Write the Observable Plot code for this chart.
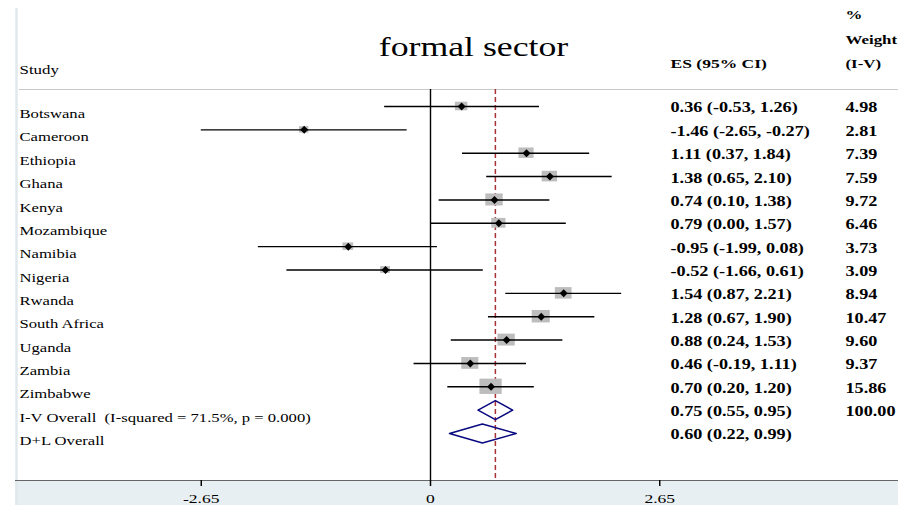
<!DOCTYPE html>
<html>
<head>
<meta charset="utf-8">
<script src="https://cdn.jsdelivr.net/npm/d3@7"></script>
<script src="https://cdn.jsdelivr.net/npm/@observablehq/plot@0.6"></script>
<style>
  html, body { margin: 0; padding: 0; background: #fff; }
  svg text { white-space: pre; }
</style>
</head>
<body>
<div id="chart"></div>
<script>
// ---------- data ----------
const studies = ["Botswana","Cameroon","Ethiopia","Ghana","Kenya","Mozambique","Namibia","Nigeria","Rwanda","South Africa","Uganda","Zambia","Zimbabwe"];
const es      = [0.36, -1.46, 1.11, 1.38, 0.74, 0.79, -0.95, -0.52, 1.54, 1.28, 0.88, 0.46, 0.70];
const lo      = [-0.53, -2.65, 0.37, 0.65, 0.10, 0.00, -1.99, -1.66, 0.87, 0.67, 0.24, -0.19, 0.20];
const hi      = [1.26, -0.27, 1.84, 2.10, 1.38, 1.57, 0.08, 0.61, 2.21, 1.90, 1.53, 1.11, 1.20];
const weights = [4.98, 2.81, 7.39, 7.59, 9.72, 6.46, 3.73, 3.09, 8.94, 10.47, 9.60, 9.37, 15.86];

const overallLabels  = ["I-V Overall  (I-squared = 71.5%, p = 0.000)", "D+L Overall"];
const overallES      = [0.75, 0.60];
const overallLo      = [0.55, 0.22];
const overallHi      = [0.95, 0.99];
const overallWeights = ["100.00", ""];

const tickValues = [-2.65, 0, 2.65];
const tickLabels = ["-2.65", "0", "2.65"];

const titleText     = "formal sector";
const studyHeader   = "Study";
const esHeader      = "ES (95% CI)";
const weightHeaders = ["%", "Weight", "(I-V)"];

// ---------- layout ----------
const W = 898, H = 505;
const zeroPx = 430, unitPx = 86.5, frameLeft = 15, axisPx = 480;
const row1Px = 106, rowStepPx = 23.357;
const px2x = p => (p - zeroPx) / unitPx;
const px2y = p => 1 + (p - row1Px) / rowStepPx;
const xDomain = [px2x(frameLeft), px2x(W)];
const yDomain = [px2y(0), px2y(axisPx)];
const textScale = 1.3;
const fmt = v => v.toFixed(2);

const studyRows = studies.map((s, i) => {
  const bh = 3.85 * Math.sqrt(weights[i]);
  const bw = 1.45 * bh;
  return {
    row: i + 1, label: s, es: es[i], lo: lo[i], hi: hi[i],
    bx1: es[i] - bw / 2 / unitPx, bx2: es[i] + bw / 2 / unitPx,
    by1: i + 1 - bh / 2 / rowStepPx, by2: i + 1 + bh / 2 / rowStepPx,
    esText: `${fmt(es[i])} (${fmt(lo[i])}, ${fmt(hi[i])})`,
    wText: fmt(weights[i])
  };
});
const overallRows = overallLabels.map((s, j) => ({
  row: studies.length + 1 + j, label: s, es: overallES[j], lo: overallLo[j], hi: overallHi[j],
  esText: `${fmt(overallES[j])} (${fmt(overallLo[j])}, ${fmt(overallHi[j])})`,
  wText: overallWeights[j]
}));
const allRows = [...studyRows, ...overallRows];

const diamondHalf = 9.5 / rowStepPx;
const diamondPts = overallRows.flatMap((d, j) => [
  {id: j, x: d.lo, y: d.row},
  {id: j, x: d.es, y: d.row - diamondHalf},
  {id: j, x: d.hi, y: d.row},
  {id: j, x: d.es, y: d.row + diamondHalf},
  {id: j, x: d.lo, y: d.row}
]);

const headerY = px2y(89);
const weightHeaderDy = [9.5, 34.5, 58.3];

const chart = Plot.plot({
  width: W, height: H,
  marginLeft: frameLeft, marginRight: 0, marginTop: 0, marginBottom: H - axisPx,
  style: {fontFamily: "Liberation Serif", fontSize: "13.5px", background: "white", color: "black"},
  x: {domain: xDomain, label: null},
  y: {domain: yDomain, range: [0, axisPx], axis: null},
  marks: [
    // bottom band & frame stripe
    Plot.rect([0], {x1: () => xDomain[0], x2: () => xDomain[1], y1: () => yDomain[1], y2: () => px2y(H), fill: "#e8eff2"}),
    Plot.ruleX([0], {x: () => px2x(16), y1: () => px2y(8), y2: () => px2y(H), stroke: "#e1e9ed", strokeWidth: 2.5}),
    Plot.ruleY([0], {y: () => yDomain[1], x1: () => xDomain[0], x2: () => xDomain[1], stroke: "#666", strokeWidth: 1.2}),
    Plot.ruleY([0], {y: () => headerY, x1: () => px2x(19), x2: () => xDomain[1], stroke: "#c8c8c8", strokeWidth: 1}),
    Plot.axisX({ticks: tickValues, tickFormat: d => tickLabels[tickValues.indexOf(d)], tickSize: 6, tickPadding: 7, fontSize: 13.5, stroke: "black", strokeWidth: 1.5, label: null}),
    // reference lines
    Plot.ruleX([0], {y1: () => headerY, y2: () => yDomain[1], stroke: "black", strokeWidth: 1.4}),
    Plot.ruleX([overallES[0]], {y1: () => headerY, y2: () => yDomain[1], stroke: "#a83236", strokeWidth: 1.5, strokeDasharray: "5,3"}),
    // study boxes, CIs, points
    Plot.rect(studyRows, {x1: "bx1", x2: "bx2", y1: "by1", y2: "by2", fill: "#bdbdbd"}),
    Plot.ruleY(studyRows, {y: "row", x1: "lo", x2: "hi", stroke: "black", strokeWidth: 1.4}),
    Plot.dot(studyRows, {x: "es", y: "row", symbol: "diamond2", r: 3.6, fill: "black", stroke: "none"}),
    // overall diamonds
    Plot.line(diamondPts, {x: "x", y: "y", z: "id", stroke: "#0a0a80", strokeWidth: 1.6, fill: "none"}),
    // row texts
    Plot.text(allRows, {y: "row", text: "label", frameAnchor: "left", dx: 4, dy: 7.5, textAnchor: "start", fontSize: 12.8}),
    Plot.text(allRows, {y: "row", text: "esText", frameAnchor: "left", dx: 655, dy: 1.5, textAnchor: "start", fontSize: 14, fontWeight: "bold"}),
    Plot.text(allRows, {y: "row", text: "wText", frameAnchor: "left", dx: 830, dy: 1.5, textAnchor: "start", fontSize: 14, fontWeight: "bold"}),
    // title & headers
    Plot.text([titleText], {text: d => d, frameAnchor: "top-left", dx: 458, dy: 36, textAnchor: "middle", fontSize: 27.5}),
    Plot.text([studyHeader], {text: d => d, frameAnchor: "top-left", dx: 4, dy: 64, textAnchor: "start", fontSize: 13}),
    Plot.text([esHeader], {text: d => d, frameAnchor: "top-left", dx: 655, dy: 58.3, textAnchor: "start", fontSize: 13.5, fontWeight: "bold"}),
    ...weightHeaders.map((h, i) => Plot.text([h], {text: d => d, frameAnchor: "top-left", dx: 830, dy: weightHeaderDy[i], textAnchor: "start", fontSize: 13, fontWeight: "bold"}))
  ]
});

// horizontally stretch all texts like the reference rendering
chart.querySelectorAll("text").forEach(t => {
  const tr = t.getAttribute("transform");
  if (tr) {
    t.setAttribute("transform", tr + ` scale(${textScale},1)`);
  } else {
    const x = +(t.getAttribute("x") || 0), y = +(t.getAttribute("y") || 0);
    t.removeAttribute("x"); t.removeAttribute("y");
    t.setAttribute("transform", `translate(${x},${y}) scale(${textScale},1)`);
  }
});

document.getElementById("chart").appendChild(chart);
</script>
</body>
</html>
